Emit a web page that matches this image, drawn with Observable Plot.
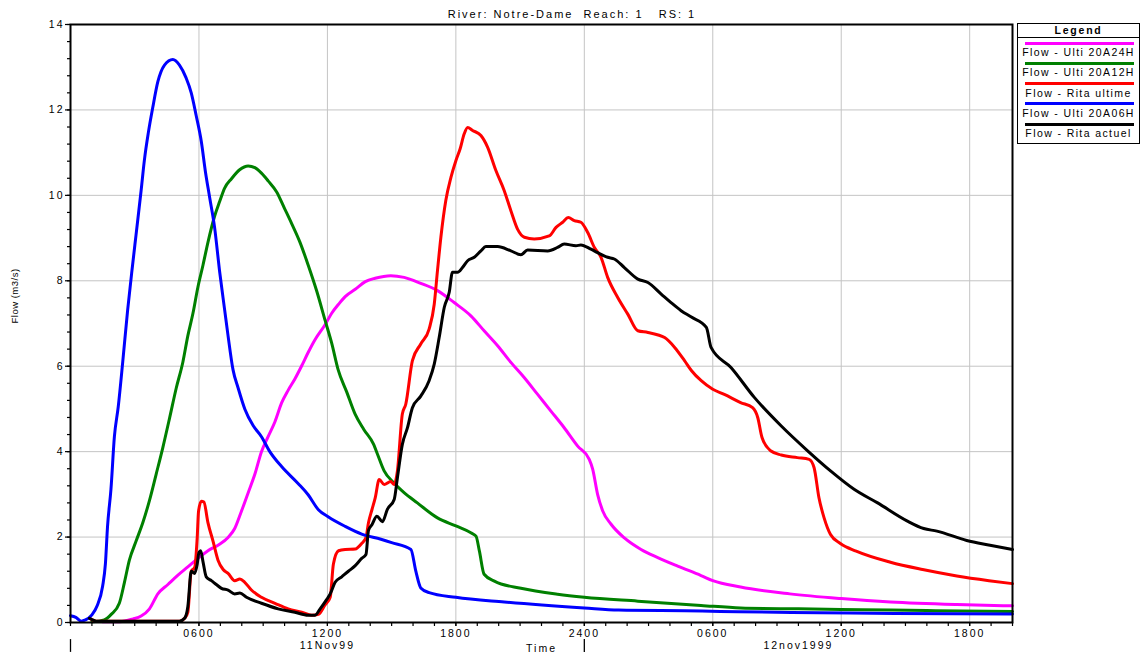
<!DOCTYPE html>
<html>
<head>
<meta charset="utf-8">
<script src="https://cdn.jsdelivr.net/npm/d3@7"></script>
<script src="https://cdn.jsdelivr.net/npm/@observablehq/plot@0.6"></script>
<style>
  body { margin: 0; background: #fff; }
  #chart { position: relative; width: 1144px; height: 656px; font-family: "Liberation Sans", Arial, sans-serif; color: #000; }
  #title { position: absolute; left: 0; top: 8px; width: 1144px; text-align: center; font-size: 11px; line-height: 13px; letter-spacing: 2px; white-space: pre; }
  #legend { position: absolute; left: 1017px; top: 23px; width: 121px; height: 119px; border: 1px solid #000; background: #fff; font-size: 10.5px; letter-spacing: 1.4px; }
  #legend .lg-title { position: absolute; left: 0; top: 0; width: 100%; height: 13px; line-height: 13px; text-align: center; font-weight: bold; letter-spacing: 1.8px; border-bottom: 1px solid #000; }
  #legend .lg-swatch { position: absolute; left: 7px; width: 109px; height: 3px; }
  #legend .lg-label { position: absolute; left: 0; width: 100%; height: 12px; line-height: 12px; text-align: center; white-space: nowrap; }
</style>
</head>
<body>
<div id="chart">
  <div id="title">River: Notre-Dame  Reach: 1   RS: 1</div>
</div>
<script>
// Hydrographs at River: Notre-Dame, Reach 1, RS 1.
// Time is in hours from 0000 on 11 Nov 1999; flow in m3/s.

const ulti24 = [[1.5,0.02],[2.3,0.02],[2.9,0.08],[3.3,0.15],[3.69,0.32],[4.08,0.67],[4.55,0.89],[5.02,1.11],[5.48,1.3],[5.95,1.5],[6.42,1.68],[6.89,1.81],[7.36,1.99],[7.67,2.2],[7.98,2.6],[8.3,3.04],[8.61,3.47],[8.92,4.0],[9.23,4.35],[9.55,4.7],[9.86,5.14],[10.17,5.44],[10.48,5.7],[10.8,6.01],[11.1,6.32],[11.42,6.62],[11.89,6.97],[12.2,7.24],[12.52,7.45],[12.83,7.63],[13.3,7.8],[13.77,7.98],[14.23,8.06],[14.96,8.12],[15.58,8.08],[16.36,7.94],[17.14,7.77],[17.92,7.49],[18.7,7.18],[19.32,6.83],[19.95,6.48],[20.57,6.09],[21.2,5.73],[21.82,5.34],[22.44,4.95],[23.06,4.56],[23.69,4.13],[24.23,3.82],[24.39,3.59],[24.62,3.0],[24.86,2.61],[25.25,2.3],[25.87,1.98],[26.65,1.71],[27.43,1.52],[28.36,1.32],[29.45,1.1],[30.0,0.98],[31.3,0.83],[33.6,0.67],[36,0.56],[38.3,0.48],[41.4,0.42],[44,0.39]];

const ulti12 = [[1.0,0.02],[1.3,0.03],[1.58,0.06],[1.9,0.19],[2.28,0.45],[2.52,0.94],[2.75,1.46],[3.06,1.9],[3.38,2.34],[3.69,2.86],[4.0,3.47],[4.31,4.09],[4.63,4.79],[4.94,5.49],[5.25,6.1],[5.48,6.71],[5.72,7.24],[5.95,7.85],[6.19,8.37],[6.42,8.9],[6.73,9.51],[6.97,9.86],[7.2,10.17],[7.52,10.39],[7.9,10.6],[8.3,10.69],[8.61,10.65],[8.92,10.52],[9.23,10.34],[9.63,10.08],[10.0,9.69],[10.33,9.34],[10.72,8.9],[11.1,8.37],[11.5,7.76],[11.9,7.06],[12.2,6.54],[12.5,5.92],[12.9,5.4],[13.3,4.87],[13.7,4.52],[14.16,4.17],[14.34,3.94],[14.65,3.55],[15.1,3.27],[15.58,3.04],[16.2,2.8],[17.14,2.45],[18.0,2.26],[18.7,2.1],[18.94,2.02],[19.1,1.67],[19.32,1.13],[19.8,0.97],[21.04,0.8],[22.75,0.66],[24,0.59],[26.5,0.5],[29.45,0.4],[31.3,0.34],[34,0.32],[37,0.3],[40,0.28],[44,0.26]];

const ritaUltime = [[0.9,0.1],[1.2,0.03],[5.1,0.03],[5.33,0.1],[5.48,0.24],[5.64,1.2],[5.8,1.29],[5.92,2.0],[5.98,2.6],[6.11,2.84],[6.23,2.82],[6.42,2.34],[6.66,1.9],[6.89,1.46],[7.13,1.24],[7.36,1.15],[7.67,0.98],[7.91,1.02],[8.14,0.94],[8.45,0.76],[8.92,0.59],[9.55,0.45],[10.17,0.32],[10.8,0.24],[11.27,0.17],[11.58,0.19],[11.89,0.41],[12.13,0.59],[12.28,1.37],[12.52,1.68],[12.83,1.71],[13.3,1.72],[13.6,1.85],[13.8,1.99],[13.92,2.34],[14.08,2.64],[14.23,2.91],[14.42,3.35],[14.65,3.23],[14.96,3.3],[15.12,3.23],[15.27,3.55],[15.5,4.88],[15.66,5.11],[15.97,6.13],[16.36,6.52],[16.75,6.87],[16.99,7.45],[17.14,8.23],[17.3,9.02],[17.53,9.88],[17.77,10.42],[18.0,10.81],[18.2,11.09],[18.39,11.44],[18.55,11.59],[18.78,11.52],[19.17,11.4],[19.48,11.13],[19.87,10.58],[20.26,10.11],[20.57,9.64],[20.88,9.21],[21.2,9.02],[21.66,8.98],[22.36,9.05],[22.68,9.25],[22.99,9.37],[23.25,9.48],[23.53,9.41],[23.84,9.37],[24.16,9.13],[24.47,8.78],[24.78,8.55],[25.09,8.08],[25.56,7.61],[26.03,7.22],[26.5,6.83],[26.97,6.79],[27.75,6.67],[28.22,6.44],[28.68,6.13],[29.0,5.9],[29.46,5.66],[30.0,5.46],[30.54,5.34],[31.3,5.15],[31.86,5.03],[32.1,4.8],[32.3,4.33],[32.7,4.02],[33.2,3.92],[33.95,3.86],[34.5,3.82],[34.73,3.63],[34.96,2.92],[35.2,2.45],[35.5,2.06],[35.96,1.85],[36.7,1.67],[38.3,1.41],[39.8,1.24],[41.4,1.09],[42.9,0.98],[44,0.91]];

const ulti06 = [[0,0.16],[0.25,0.12],[0.5,0.03],[0.7,0.06],[1.0,0.18],[1.25,0.4],[1.5,0.85],[1.63,1.37],[1.73,2.25],[1.89,3.12],[2.05,4.35],[2.23,5.05],[2.44,6.1],[2.67,7.32],[2.9,8.37],[3.06,9.07],[3.3,10.12],[3.45,10.82],[3.64,11.48],[3.84,12.05],[4.08,12.66],[4.39,13.05],[4.78,13.18],[5.09,13.05],[5.4,12.75],[5.64,12.4],[5.87,11.87],[6.11,11.26],[6.3,10.56],[6.5,9.95],[6.73,9.25],[6.97,8.2],[7.2,7.32],[7.36,6.71],[7.59,5.92],[7.83,5.49],[8.14,5.0],[8.53,4.61],[8.92,4.35],[9.31,4.0],[9.86,3.65],[10.64,3.25],[11.1,2.99],[11.58,2.64],[12.05,2.47],[12.83,2.25],[13.6,2.07],[14.5,1.95],[15.0,1.87],[15.9,1.71],[16.13,1.2],[16.36,0.81],[16.75,0.7],[18,0.59],[20.26,0.48],[24,0.34],[25.6,0.29],[29.5,0.27],[31.2,0.25],[35,0.23],[38.5,0.21],[44,0.2]];

const ritaActuel = [[0.88,0.1],[1.27,0.03],[5.09,0.03],[5.33,0.1],[5.48,0.37],[5.64,1.2],[5.8,1.15],[5.92,1.37],[6.0,1.64],[6.08,1.68],[6.19,1.42],[6.34,1.07],[6.58,0.98],[6.81,0.89],[7.05,0.8],[7.36,0.76],[7.67,0.67],[7.91,0.69],[8.22,0.59],[8.92,0.45],[9.7,0.32],[10.48,0.24],[11.1,0.17],[11.42,0.17],[11.66,0.32],[11.97,0.54],[12.13,0.67],[12.36,0.94],[12.67,1.07],[12.98,1.2],[13.3,1.33],[13.6,1.5],[13.8,1.59],[13.92,2.16],[14.08,2.29],[14.31,2.49],[14.57,2.36],[14.8,2.65],[15.12,2.88],[15.27,3.39],[15.5,4.17],[15.74,4.56],[15.97,5.03],[16.36,5.3],[16.75,5.66],[16.99,6.05],[17.22,6.67],[17.46,7.38],[17.69,7.73],[17.84,8.2],[18.08,8.2],[18.31,8.31],[18.55,8.47],[18.86,8.55],[19.17,8.7],[19.4,8.8],[19.95,8.8],[20.57,8.7],[21.04,8.61],[21.35,8.72],[22.29,8.7],[22.75,8.78],[23.06,8.86],[23.61,8.82],[23.84,8.84],[24.31,8.74],[24.62,8.66],[25.09,8.55],[25.4,8.51],[25.87,8.31],[26.5,8.04],[26.97,7.96],[27.59,7.69],[28.05,7.49],[28.52,7.3],[29.0,7.15],[29.7,6.91],[29.92,6.44],[30.85,5.97],[31.94,5.27],[33.2,4.6],[34.43,4.02],[35.5,3.55],[36.6,3.12],[37.7,2.8],[39.07,2.38],[39.85,2.2],[40.47,2.14],[41.86,1.92],[42.95,1.81],[44,1.71]];

// Series in legend (and drawing) order
const seriesNames = ["Flow - Ulti 20A24H", "Flow - Ulti 20A12H", "Flow - Rita ultime", "Flow - Ulti 20A06H", "Flow - Rita actuel"];
const seriesColors = ["#ff00ff", "#008000", "#ff0000", "#0000ff", "#000000"];
const seriesValues = [ulti24, ulti12, ritaUltime, ulti06, ritaActuel];

// Time axis
const timeDomain = [0, 44];
const majorHours = [6, 12, 18, 24, 30, 36, 42];
const majorLabels = ["0600", "1200", "1800", "2400", "0600", "1200", "1800"];
const minorHours = d3.range(0, 45, 1);
const dayStarts = [0, 24];
const dayLabels = ["11Nov99", "12nov1999"];

// Flow axis
const flowDomain = [0, 14];
const flowMajor = [0, 2, 4, 6, 8, 10, 12, 14];
const flowMinor = d3.range(0, 14.001, 0.4);

const rows = seriesValues.flatMap((pts, i) =>
  pts.map(([hour, flow]) => ({series: seriesNames[i], hour, flow}))
);
const days = dayStarts.map((start, i) => ({
  start,
  end: Math.min(start + 24, timeDomain[1]),
  label: dayLabels[i]
}));

const plot = Plot.plot({
  width: 1144,
  height: 656,
  marginLeft: 70,
  marginRight: 132,
  marginTop: 24,
  marginBottom: 34,
  style: {
    fontFamily: '"Liberation Sans", Arial, sans-serif',
    fontSize: "10.5px",
    letterSpacing: "2px",
    background: "white",
    color: "black",
    overflow: "visible"
  },
  x: {domain: timeDomain},
  y: {domain: flowDomain},
  color: {domain: seriesNames, range: seriesColors},
  marks: [
    Plot.gridX({ticks: majorHours, stroke: "#c4c4c4", strokeOpacity: 1, strokeWidth: 1}),
    Plot.gridY({ticks: flowMajor.filter(v => v > 0 && v < 14), stroke: "#c4c4c4", strokeOpacity: 1, strokeWidth: 1}),
    Plot.line(rows, {
      x: "hour", y: "flow", z: "series", stroke: "series",
      curve: "monotone-x",
      strokeWidth: 3, strokeLinejoin: "round", strokeLinecap: "round"
    }),
    Plot.frame({stroke: "black", strokeWidth: 2}),
    Plot.axisY({ticks: flowMinor, tickSize: 3, fill: "none", label: null, strokeWidth: 1.2}),
    Plot.axisY({ticks: flowMajor, tickSize: 5, tickPadding: 1, label: null, tickFormat: d => String(d), strokeWidth: 1.2}),
    Plot.axisX({ticks: minorHours, tickSize: 4, fill: "none", label: null, strokeWidth: 1.2}),
    Plot.axisX({
      ticks: majorHours, tickSize: 4, tickPadding: 3, label: null, strokeWidth: 1.2,
      tickFormat: d => majorLabels[majorHours.indexOf(d)]
    }),
    Plot.ruleX(days, {x: "start", y1: -0.4, y2: -0.7, stroke: "black", strokeWidth: 1.3}),
    Plot.text(days, {x: d => (d.start + d.end) / 2, y: 0, dy: 23, text: "label"}),
    Plot.text(["Time"], {frameAnchor: "bottom", dy: 29}),
    Plot.text(["Flow (m3/s)"], {frameAnchor: "left", rotate: -90, dx: -56, fontSize: 9.5})
  ]
});

d3.select(plot).selectAll("text")
  .filter(function () { return this.textContent === "Flow (m3/s)"; })
  .style("letter-spacing", "0.5px");

const chart = document.getElementById("chart");
chart.insertBefore(plot, chart.firstChild);
d3.select(plot).style("position", "absolute").style("left", "0px").style("top", "0px");
d3.select("#title").raise();

// Legend box at the right of the plot frame
const legend = d3.select("#chart").append("div").attr("id", "legend");
legend.append("div").attr("class", "lg-title").text("Legend");
seriesNames.forEach((name, i) => {
  legend.append("div")
    .attr("class", "lg-swatch")
    .style("top", `${17.5 + i * 20.3}px`)
    .style("background", seriesColors[i]);
  legend.append("div")
    .attr("class", "lg-label")
    .style("top", `${22 + i * 20.3}px`)
    .text(name);
});
</script>
</body>
</html>
